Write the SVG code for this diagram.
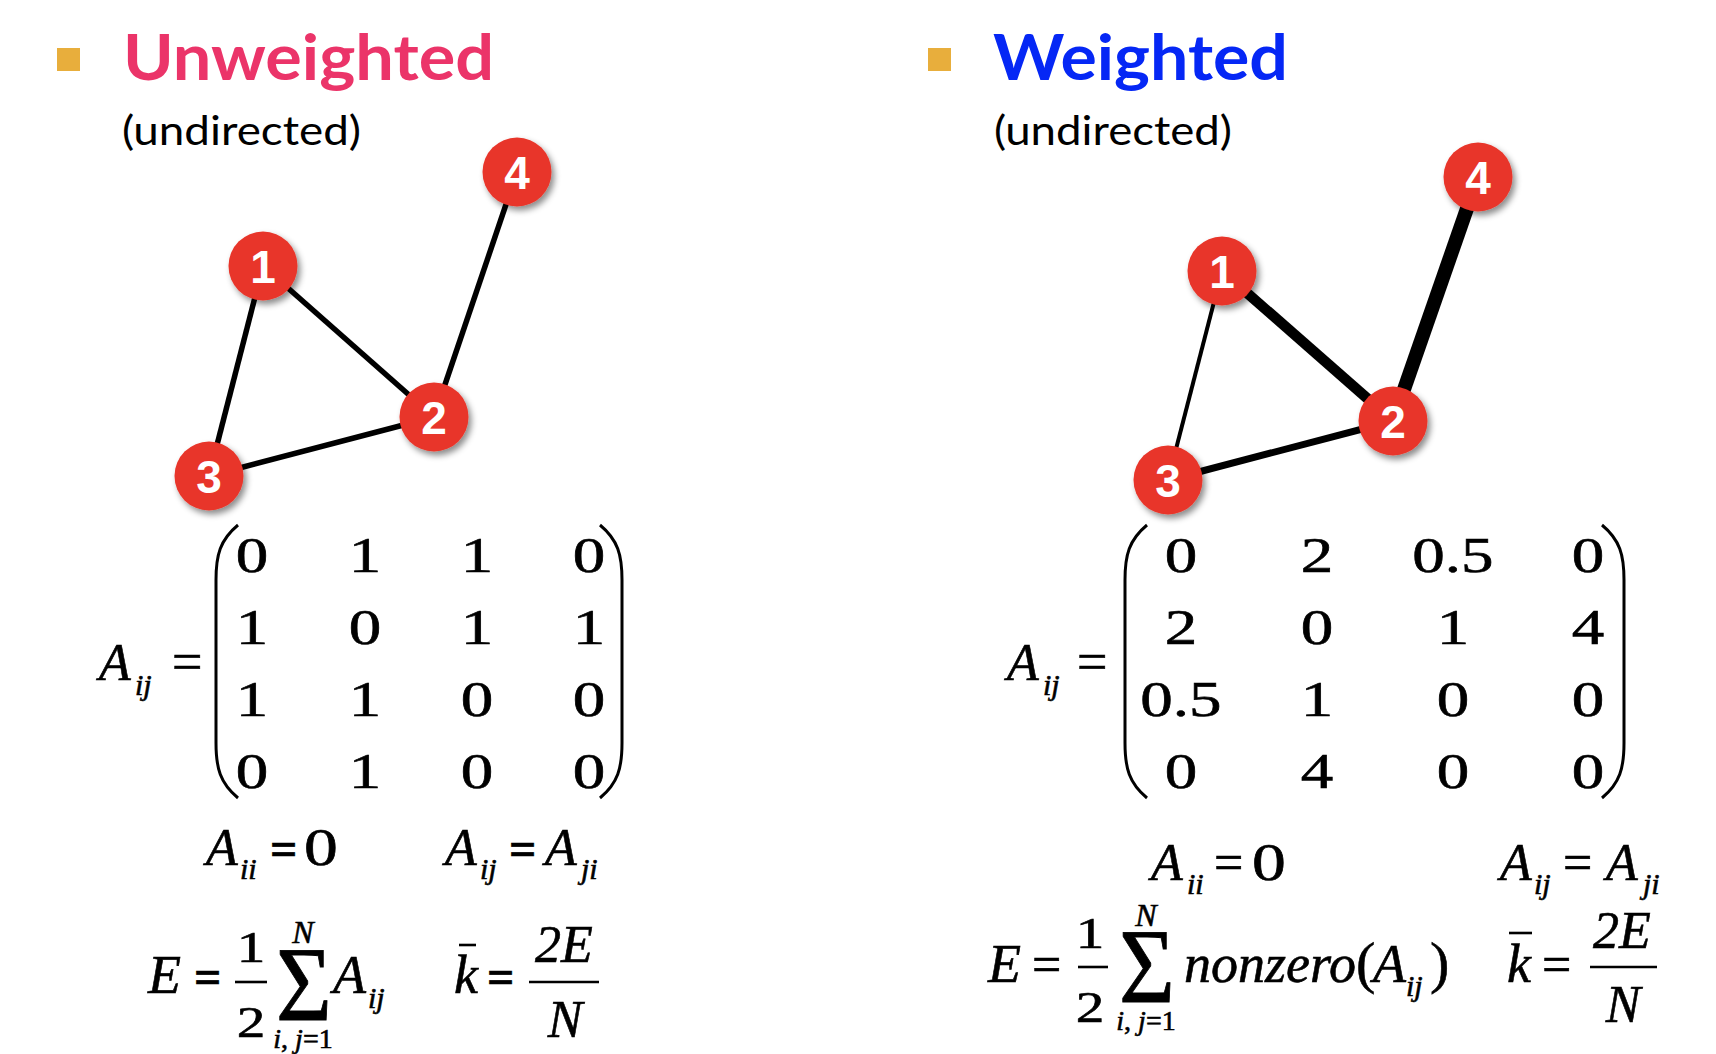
<svg xmlns="http://www.w3.org/2000/svg" width="1716" height="1054" viewBox="0 0 1716 1054">
<defs>
<filter id="sh" x="-30%" y="-30%" width="170%" height="170%">
<feDropShadow dx="3" dy="4" stdDeviation="3" flood-color="#000" flood-opacity="0.45"/>
</filter>
<style>
.bul{fill:#E8AE3C}
.title{font-family:Lato,"Open Sans",sans-serif;font-weight:bold;font-size:64px}
.sub{font-family:Lato,"Open Sans",sans-serif;font-size:40px;fill:#000}
.node circle{fill:#E8362A;filter:url(#sh)}
.node text{font-family:"Liberation Sans",Arial,sans-serif;font-weight:bold;font-size:46px;fill:#fff;text-anchor:middle}
.edge{stroke:#000;stroke-linecap:butt}
.m{font-family:"Liberation Serif","Times New Roman",serif;font-size:50px;fill:#000;stroke:#000;stroke-width:0.6}
.mc{text-anchor:middle}
.it{font-style:italic}
.s{font-size:30px;font-style:italic}
.wd{transform-box:fill-box;transform-origin:center;transform:scaleX(1.3)}
.par{fill:none;stroke:#000;stroke-width:3}
.bar{stroke:#000;stroke-width:2.6}
.sig{font-size:96px;text-anchor:middle;stroke-width:0.8}
</style>
</defs>
<rect width="1716" height="1054" fill="#fff"/>

<g id="titles">
<rect class="bul" x="57" y="48" width="23" height="23"/>
<text class="title" x="123" y="80" fill="#EB3469" textLength="371" lengthAdjust="spacingAndGlyphs">Unweighted</text>
<text class="sub" x="122" y="145" textLength="239" lengthAdjust="spacingAndGlyphs">(undirected)</text>
<rect class="bul" x="928" y="48" width="23" height="23"/>
<text class="title" x="993" y="80" fill="#0527F5" textLength="295" lengthAdjust="spacingAndGlyphs">Weighted</text>
<text class="sub" x="994" y="145" textLength="238" lengthAdjust="spacingAndGlyphs">(undirected)</text>
</g>

<g id="connectors">
<line class="edge" x1="263" y1="266" x2="434" y2="417" stroke-width="5.5"/>
<line class="edge" x1="263" y1="266" x2="209" y2="476" stroke-width="5.5"/>
<line class="edge" x1="209" y1="476" x2="434" y2="417" stroke-width="5.5"/>
<line class="edge" x1="434" y1="417" x2="517" y2="172" stroke-width="5.5"/>
<line class="edge" x1="1222" y1="271" x2="1393" y2="421" stroke-width="10.5"/>
<line class="edge" x1="1222" y1="271" x2="1168" y2="480" stroke-width="4"/>
<line class="edge" x1="1168" y1="480" x2="1393" y2="421" stroke-width="7"/>
<line class="edge" x1="1393" y1="421" x2="1478" y2="177" stroke-width="14"/>
</g>

<g id="L1" class="node"><circle cx="263" cy="266" r="34.5"/><text x="263" y="283">1</text></g>
<g id="L2" class="node"><circle cx="434" cy="417" r="34.5"/><text x="434" y="434">2</text></g>
<g id="L3" class="node"><circle cx="209" cy="476" r="34.5"/><text x="209" y="493">3</text></g>
<g id="L4" class="node"><circle cx="517" cy="172" r="34.5"/><text x="517" y="189">4</text></g>
<g id="R1" class="node"><circle cx="1222" cy="271" r="34.5"/><text x="1222" y="288">1</text></g>
<g id="R2" class="node"><circle cx="1393" cy="421" r="34.5"/><text x="1393" y="438">2</text></g>
<g id="R3" class="node"><circle cx="1168" cy="480" r="34.5"/><text x="1168" y="497">3</text></g>
<g id="R4" class="node"><circle cx="1478" cy="177" r="34.5"/><text x="1478" y="194">4</text></g>

<g id="matrixL" class="m">
<text class="it" x="99" y="680" font-size="52">A</text>
<text class="s" x="135" y="695">ij</text>
<text x="172" y="680" font-size="54">=</text>
<path class="par" d="M238,525 C220,540 216,555 216,580 L216,743 C216,768 220,783 238,798"/>
<path class="par" d="M600,525 C618,540 622,555 622,580 L622,743 C622,768 618,783 600,798"/>
<g class="mc">
<text class="wd" x="252" y="572">0</text><text class="wd" x="365" y="572">1</text><text class="wd" x="477" y="572">1</text><text class="wd" x="589" y="572">0</text>
<text class="wd" x="252" y="644">1</text><text class="wd" x="365" y="644">0</text><text class="wd" x="477" y="644">1</text><text class="wd" x="589" y="644">1</text>
<text class="wd" x="252" y="716">1</text><text class="wd" x="365" y="716">1</text><text class="wd" x="477" y="716">0</text><text class="wd" x="589" y="716">0</text>
<text class="wd" x="252" y="788">0</text><text class="wd" x="365" y="788">1</text><text class="wd" x="477" y="788">0</text><text class="wd" x="589" y="788">0</text>
</g>
</g>

<g id="matrixR" class="m">
<text class="it" x="1007" y="680" font-size="52">A</text>
<text class="s" x="1043" y="695">ij</text>
<text x="1077" y="680" font-size="54">=</text>
<path class="par" d="M1147,525 C1129,540 1125,555 1125,580 L1125,743 C1125,768 1129,783 1147,798"/>
<path class="par" d="M1602,525 C1620,540 1624,555 1624,580 L1624,743 C1624,768 1620,783 1602,798"/>
<g class="mc">
<text class="wd" x="1181" y="572">0</text><text class="wd" x="1317" y="572">2</text><text class="wd" x="1453" y="572">0.5</text><text class="wd" x="1588" y="572">0</text>
<text class="wd" x="1181" y="644">2</text><text class="wd" x="1317" y="644">0</text><text class="wd" x="1453" y="644">1</text><text class="wd" x="1588" y="644">4</text>
<text class="wd" x="1181" y="716">0.5</text><text class="wd" x="1317" y="716">1</text><text class="wd" x="1453" y="716">0</text><text class="wd" x="1588" y="716">0</text>
<text class="wd" x="1181" y="788">0</text><text class="wd" x="1317" y="788">4</text><text class="wd" x="1453" y="788">0</text><text class="wd" x="1588" y="788">0</text>
</g>
</g>

<g id="propsL" class="m">
<text class="it" x="206" y="865" font-size="52">A</text>
<text class="s" x="240" y="879">ii</text>
<text x="270" y="865" font-size="48" font-weight="bold">=</text>
<text class="mc wd" x="321" y="865" font-size="52">0</text>
<text class="it" x="445" y="865" font-size="52">A</text>
<text class="s" x="480" y="879">ij</text>
<text x="509" y="865" font-size="48" font-weight="bold">=</text>
<text class="it" x="545" y="865" font-size="52">A</text>
<text class="s" x="581" y="879">ji</text>
</g>

<g id="formulaL" class="m">
<text class="it" x="148" y="993" font-size="54">E</text>
<text x="194" y="993" font-size="48" font-weight="bold">=</text>
<text class="mc wd" x="251" y="962" font-size="44">1</text>
<line class="bar" x1="235" y1="982" x2="267" y2="982"/>
<text class="mc wd" x="251" y="1037" font-size="44">2</text>
<text class="sig" transform="translate(304,1020) scale(1,1.1)">Σ</text>
<text class="mc it" x="303" y="943" font-size="32">N</text>
<text class="mc it" x="303" y="1048" font-size="28">i<tspan font-style="normal">,</tspan> j<tspan font-style="normal">=1</tspan></text>
<text class="it" x="333" y="993" font-size="54">A</text>
<text class="s" x="368" y="1008">ij</text>
<text class="it" x="454" y="993" font-size="54">k</text>
<line class="bar" x1="459" y1="945" x2="476" y2="945"/>
<text x="487" y="993" font-size="48" font-weight="bold">=</text>
<text class="mc it" x="564" y="962" font-size="52">2E</text>
<line class="bar" x1="529" y1="982" x2="599" y2="982"/>
<text class="mc it" x="565" y="1037" font-size="52">N</text>
</g>

<g id="propsR" class="m">
<text class="it" x="1151" y="880" font-size="52">A</text>
<text class="s" x="1187" y="894">ii</text>
<text x="1214" y="880" font-size="52">=</text>
<text class="mc wd" x="1269" y="880" font-size="52">0</text>
<text class="it" x="1500" y="880" font-size="52">A</text>
<text class="s" x="1534" y="894">ij</text>
<text x="1563" y="880" font-size="52">=</text>
<text class="it" x="1606" y="880" font-size="52">A</text>
<text class="s" x="1643" y="894">ji</text>
</g>

<g id="formulaR" class="m">
<text class="it" x="988" y="982" font-size="54">E</text>
<text x="1032" y="982" font-size="52">=</text>
<text class="mc wd" x="1090" y="948" font-size="44">1</text>
<line class="bar" x1="1078" y1="967" x2="1108" y2="967"/>
<text class="mc wd" x="1090" y="1022" font-size="44">2</text>
<text class="sig" transform="translate(1147,1002) scale(1,1.1)">Σ</text>
<text class="mc it" x="1146" y="926" font-size="32">N</text>
<text class="mc it" x="1146" y="1030" font-size="28">i<tspan font-style="normal">,</tspan> j<tspan font-style="normal">=1</tspan></text>
<text class="it" x="1184" y="982" font-size="54" textLength="172" lengthAdjust="spacingAndGlyphs">nonzero</text>
<text x="1356" y="982" font-size="58">(</text>
<text class="it" x="1373" y="982" font-size="54">A</text>
<text class="s" x="1406" y="996">ij</text>
<text x="1430" y="982" font-size="58">)</text>
<text class="it" x="1507" y="982" font-size="54">k</text>
<line class="bar" x1="1509" y1="933" x2="1532" y2="933"/>
<text x="1542" y="982" font-size="52">=</text>
<text class="mc it" x="1622" y="948" font-size="52">2E</text>
<line class="bar" x1="1590" y1="967" x2="1657" y2="967"/>
<text class="mc it" x="1623" y="1022" font-size="52">N</text>
</g>
</svg>
